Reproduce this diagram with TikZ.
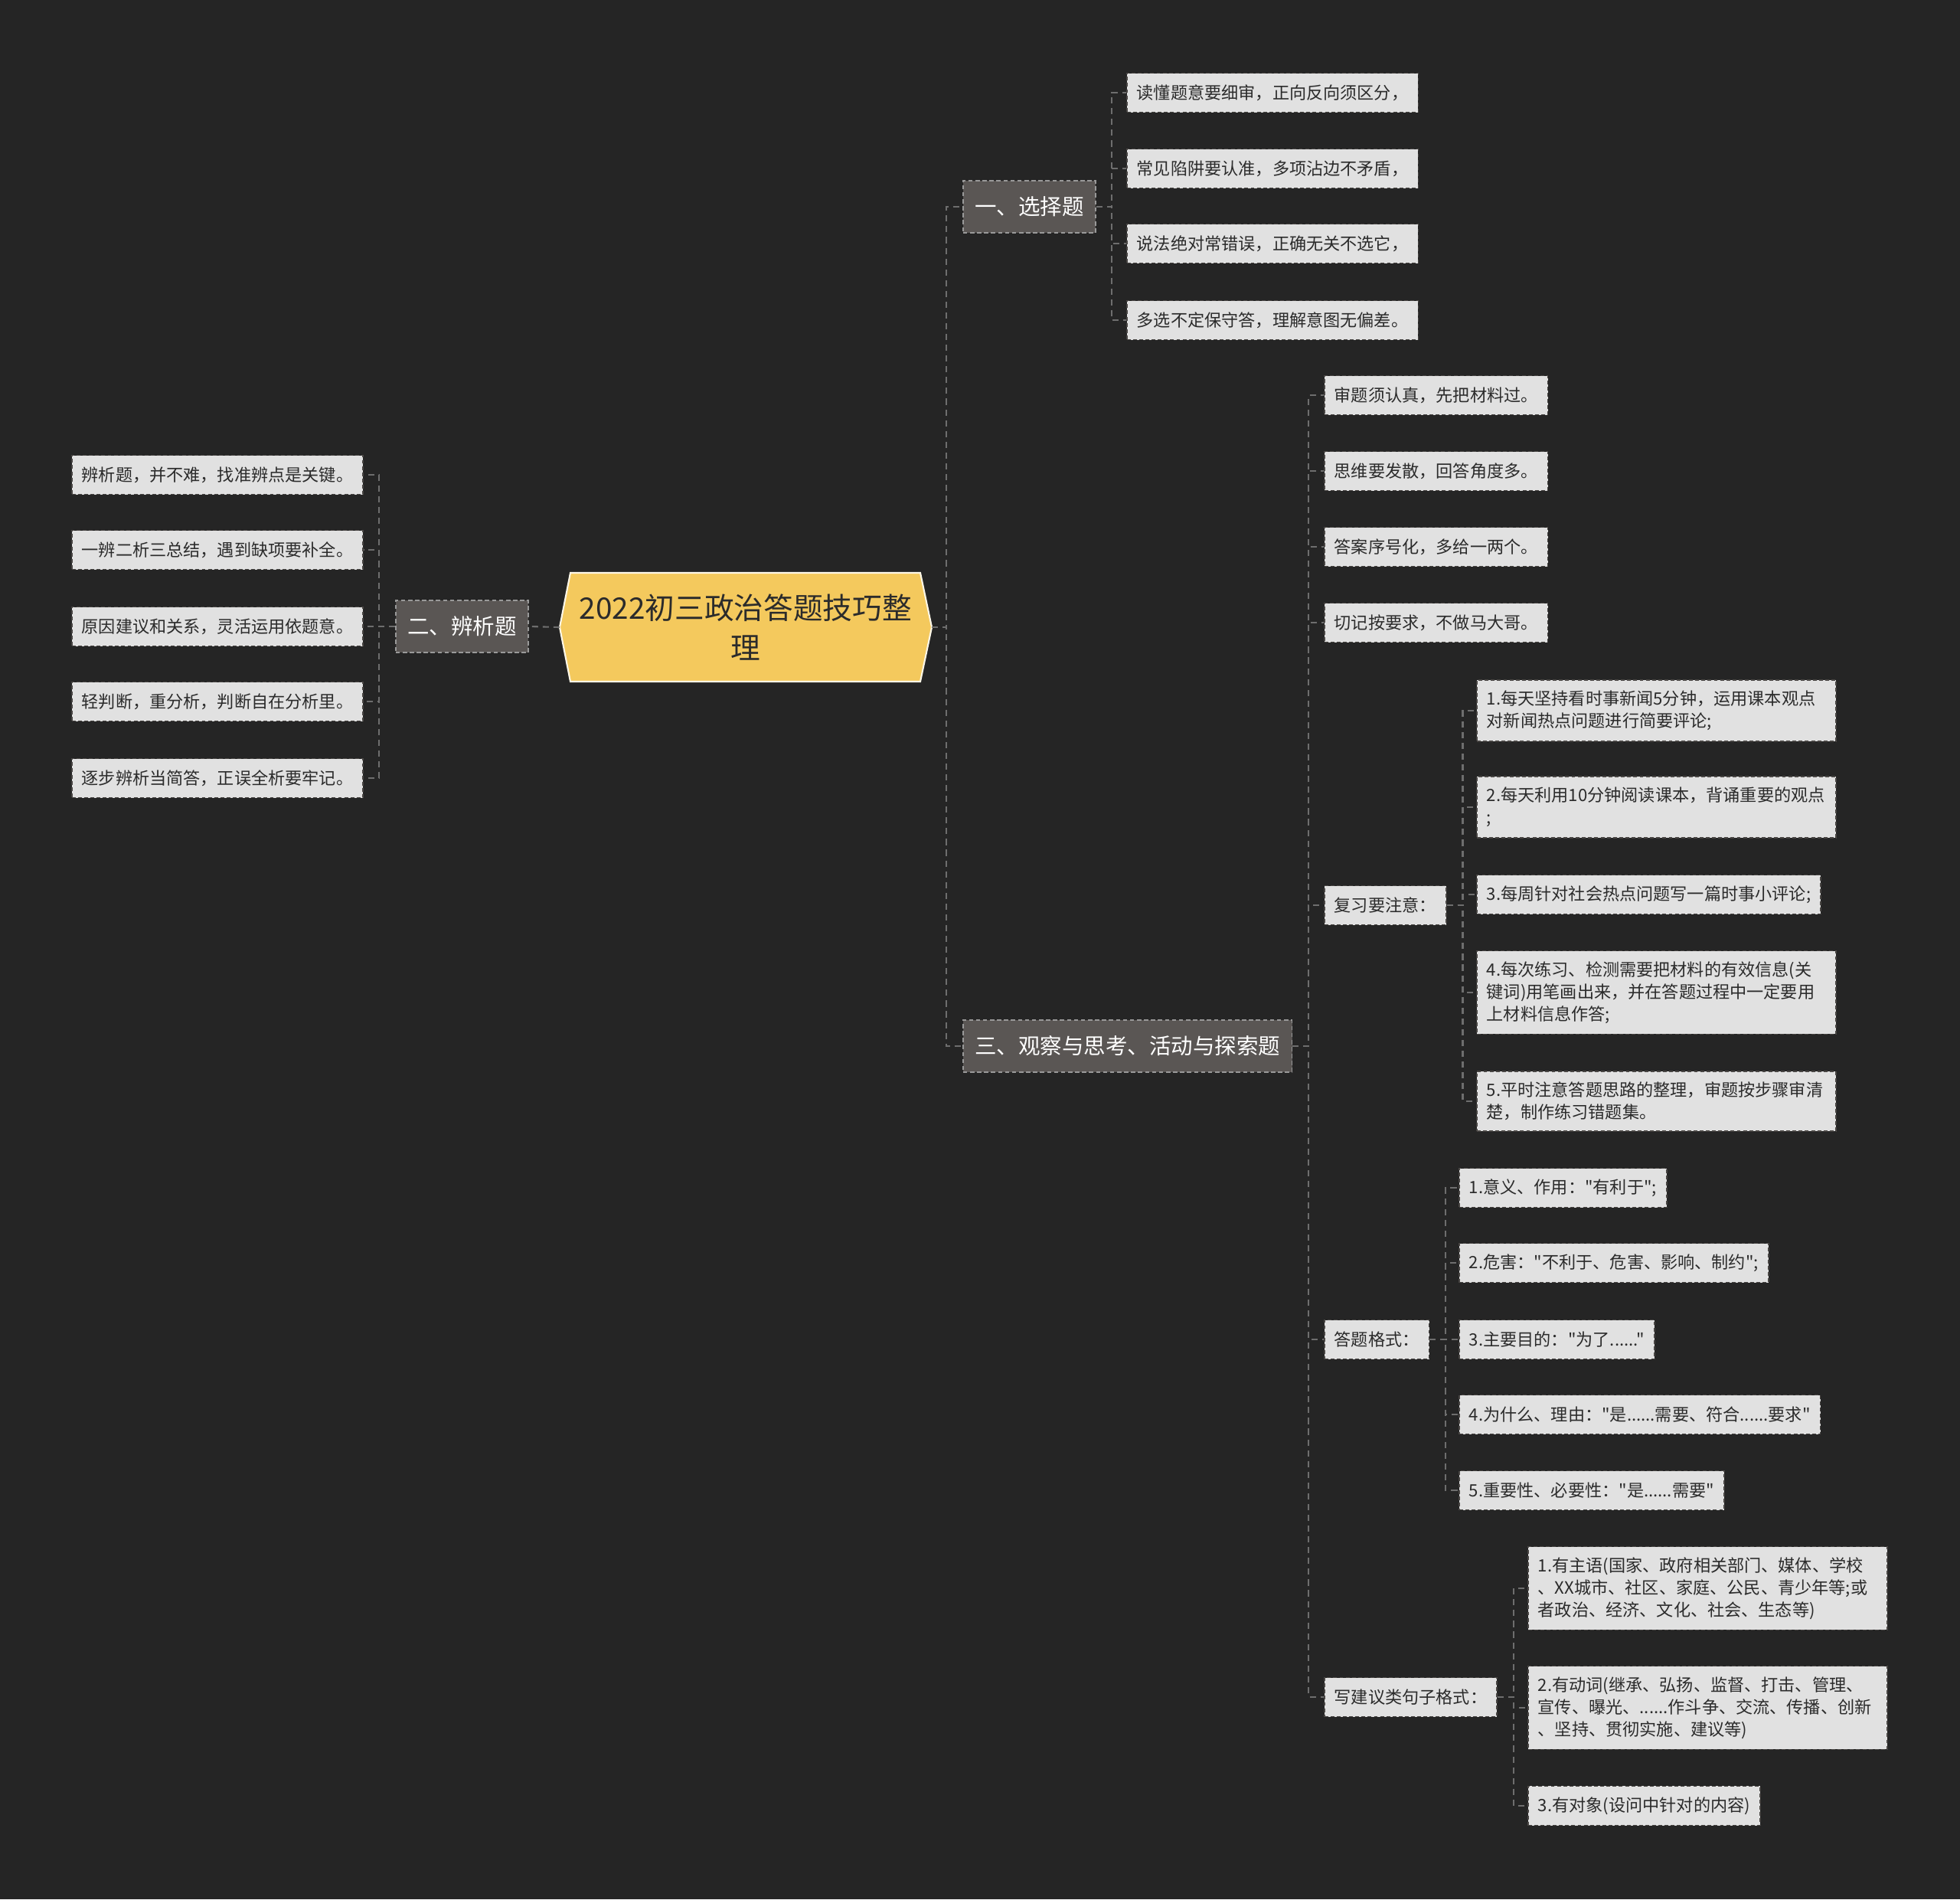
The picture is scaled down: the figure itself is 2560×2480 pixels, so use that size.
\documentclass[tikz,border=0pt]{standalone}
\usepackage{fontspec}
\setmainfont{Noto Sans CJK SC}[Ligatures=TeXOff]
\usetikzlibrary{positioning,calc}
\definecolor{mapbg}{HTML}{252525}
\definecolor{mapyellow}{HTML}{F4C95D}
\definecolor{maptopic}{HTML}{5A5654}
\definecolor{mapleaf}{HTML}{E1E1E1}
\definecolor{mapline}{HTML}{6E6E6E}
\definecolor{mapink}{HTML}{2B2B2B}
\tikzset{
  topic/.style={fill=maptopic,draw=mapline!70!white,dash pattern=on 1.6pt off 1pt,line width=0.45pt,text=white,font=\fontsize{8.1}{10}\selectfont,inner xsep=0.155cm,inner ysep=0pt,minimum height=0.68cm},
  leaf/.style={fill=mapleaf,draw=maptopic!80!black,dash pattern=on 1.4pt off 0.9pt,line width=0.45pt,text=mapink,font=\fontsize{6.3}{8.2}\selectfont,inner xsep=0.13cm,inner ysep=0.14cm,minimum height=0.51cm,align=left},
  wide/.style={leaf,text width=4.43cm},
  link/.style={draw=mapline,line width=0.6pt,dash pattern=on 2.3pt off 1.7pt},
}
\begin{document}
\begin{tikzpicture}[x=0.01cm,y=-0.01cm]
  \useasboundingbox (0,0) rectangle (2560,2480);
  \fill[mapbg] (0,0) rectangle (2560,2480);
  % central topic
  \filldraw[fill=mapyellow,draw=white!85!mapyellow,line width=0.6pt] (745,748) -- (1202,748) -- (1217,819) -- (1202,890) -- (745,890) -- (731,819) -- cycle;
  \coordinate (rootL) at (731,819);
  \coordinate (rootR) at (1217,819);
  \node[align=center,text=mapink,font=\fontsize{11}{14.8}\selectfont] (root) at (974,819) {2022初三政治答题技巧整\\理};
  % main branches
  \node[topic,anchor=west] (s1) at (1257,270) {一、选择题};
  \node[topic,anchor=east] (s2) at (691,818) {二、辨析题};
  \node[topic,anchor=west] (s3) at (1257,1366) {三、观察与思考、活动与探索题};
  % 选择题
  \node[leaf,anchor=west] (a1) at (1471,121) {读懂题意要细审，正向反向须区分，};
  \node[leaf,anchor=west] (a2) at (1471,220) {常见陷阱要认准，多项沾边不矛盾，};
  \node[leaf,anchor=west] (a3) at (1471,318) {说法绝对常错误，正确无关不选它，};
  \node[leaf,anchor=west] (a4) at (1471,418) {多选不定保守答，理解意图无偏差。};
  % 辨析题
  \node[leaf,anchor=east] (b1) at (475,620) {辨析题，并不难，找准辨点是关键。};
  \node[leaf,anchor=east] (b2) at (475,718) {一辨二析三总结，遇到缺项要补全。};
  \node[leaf,anchor=east] (b3) at (475,818) {原因建议和关系，灵活运用依题意。};
  \node[leaf,anchor=east] (b4) at (475,916) {轻判断，重分析，判断自在分析里。};
  \node[leaf,anchor=east] (b5) at (475,1016) {逐步辨析当简答，正误全析要牢记。};
  % 观察与思考
  \node[leaf,anchor=west] (c1) at (1729,516) {审题须认真，先把材料过。};
  \node[leaf,anchor=west] (c2) at (1729,615) {思维要发散，回答角度多。};
  \node[leaf,anchor=west] (c3) at (1729,714) {答案序号化，多给一两个。};
  \node[leaf,anchor=west] (c4) at (1729,813) {切记按要求，不做马大哥。};
  \node[leaf,anchor=west] (rv) at (1729,1182) {复习要注意：};
  \node[leaf,anchor=west] (fm) at (1729,1749) {答题格式：};
  \node[leaf,anchor=west] (sg) at (1729,2216) {写建议类句子格式：};
  % 复习要注意
  \node[wide,anchor=west] (r1) at (1928,928) {1.每天坚持看时事新闻5分钟，运用课本观点\\对新闻热点问题进行简要评论;};
  \node[wide,anchor=west] (r2) at (1928,1054) {2.每天利用10分钟阅读课本，背诵重要的观点\\;};
  \node[leaf,anchor=west] (r3) at (1928,1168) {3.每周针对社会热点问题写一篇时事小评论;};
  \node[wide,anchor=west] (r4) at (1928,1296) {4.每次练习、检测需要把材料的有效信息(关\\键词)用笔画出来，并在答题过程中一定要用\\上材料信息作答;};
  \node[wide,anchor=west] (r5) at (1928,1438) {5.平时注意答题思路的整理，审题按步骤审清\\楚，制作练习错题集。};
  % 答题格式
  \node[leaf,anchor=west] (f1) at (1905,1551) {1.意义、作用："有利于";};
  \node[leaf,anchor=west] (f2) at (1905,1649) {2.危害："不利于、危害、影响、制约";};
  \node[leaf,anchor=west] (f3) at (1905,1749) {3.主要目的："为了......"};
  \node[leaf,anchor=west] (f4) at (1905,1847) {4.为什么、理由："是......需要、符合......要求"};
  \node[leaf,anchor=west] (f5) at (1905,1946) {5.重要性、必要性："是......需要"};
  % 写建议
  \node[wide,anchor=west] (g1) at (1995,2074) {1.有主语(国家、政府相关部门、媒体、学校\\、XX城市、社区、家庭、公民、青少年等;或\\者政治、经济、文化、社会、生态等)};
  \node[wide,anchor=west] (g2) at (1995,2230) {2.有动词(继承、弘扬、监督、打击、管理、\\宣传、曝光、......作斗争、交流、传播、创新\\、坚持、贯彻实施、建议等)};
  \node[leaf,anchor=west] (g3) at (1995,2358) {3.有对象(设问中针对的内容)};
  % connectors
  \foreach \c in {s1,s3} \draw[link] (rootR) -- ++(19,0) |- (\c.west);
  \draw[link] (rootL) -- (s2.east);
  \foreach \c in {a1,a2,a3,a4} \draw[link] (s1.east) -- ++(20,0) |- (\c.west);
  \foreach \c in {b1,b2,b3,b4,b5} \draw[link] (s2.west) -- ++(-21,0) |- (\c.east);
  \foreach \c in {c1,c2,c3,c4,rv,fm,sg} \draw[link] (s3.east) -- ++(21,0) |- (\c.west);
  \foreach \c in {r1,r2,r3,r4,r5} \draw[link] (rv.east) -- ++(21,0) |- (\c.west);
  \foreach \c in {f1,f2,f3,f4,f5} \draw[link] (fm.east) -- ++(21,0) |- (\c.west);
  \foreach \c in {g1,g2,g3} \draw[link] (sg.east) -- ++(21,0) |- (\c.west);
\end{tikzpicture}
\end{document}
